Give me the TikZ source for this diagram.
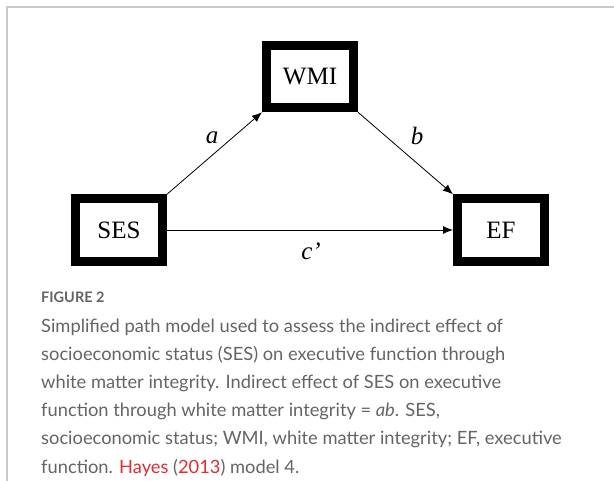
\documentclass[tikz,border=0pt]{standalone}
\usepackage{fontspec}
\setmainfont{Liberation Serif}
\newfontfamily\capfont{Lato}
\usetikzlibrary{arrows.meta,positioning}
\definecolor{framegray}{RGB}{200,200,200}
\definecolor{capgray}{RGB}{100,100,100}
\definecolor{linkred}{RGB}{225,45,50}

\begin{document}
\begin{tikzpicture}[x=1pt,y=-1pt]
	\tikzset{var/.style={draw,line width=9pt,minimum width=87pt,minimum height=62.5pt,inner sep=0pt,font=\fontsize{25}{30}\selectfont}}
	\tikzset{effect/.style={draw,line width=0.8pt,-{Latex[length=10pt,width=8pt]}}}
	\tikzset{coef/.style={font=\fontsize{25}{30}\selectfont\itshape}}
	\tikzset{captxt/.style={anchor=base west,inner sep=0pt,text=capgray,font=\capfont\fontsize{18.3}{22}\selectfont}}
	\useasboundingbox (0,0) rectangle (614,481);
	\draw[framegray,line width=1.5pt] (614,7) -- (7,7) -- (7,481);
	% the three variables
	\node[var] (wmi) at (310,76.5) {WMI};
	\node[var] (ses) at (119,230) {SES};
	\node[var] (ef) at (501,230) {EF};
	% paths
	\draw[effect] (ses.north east) -- (wmi.south west);
	\draw[effect] (wmi.south east) -- (ef.north west);
	\draw[effect] (ses.east) -- (ef.west);
	\node[coef] (a) at (212,138) {a};
	\node[coef] (b) at (417,136) {b};
	\node[coef] (c) at (311,251) {c’};
	% caption
	\node[captxt,font=\capfont\bfseries\fontsize{14.5}{16}\selectfont] (fig) at (41,303) {FIGURE 2};
	\foreach \line [count=\i] in {{Simplified path model used to assess the indirect effect of},
		{socioeconomic status (SES) on executive function through},
		{white matter integrity. Indirect effect of SES on executive},
		{function through white matter integrity = \textit{ab}. SES,},
		{socioeconomic status; WMI, white matter integrity; EF, executive},
		{function. \textcolor{linkred}{Hayes} (\textcolor{linkred}{2013}) model 4.}}
		\node[captxt] (cap\i) at (41,305+28*\i) {\line};
\end{tikzpicture}
\end{document}
